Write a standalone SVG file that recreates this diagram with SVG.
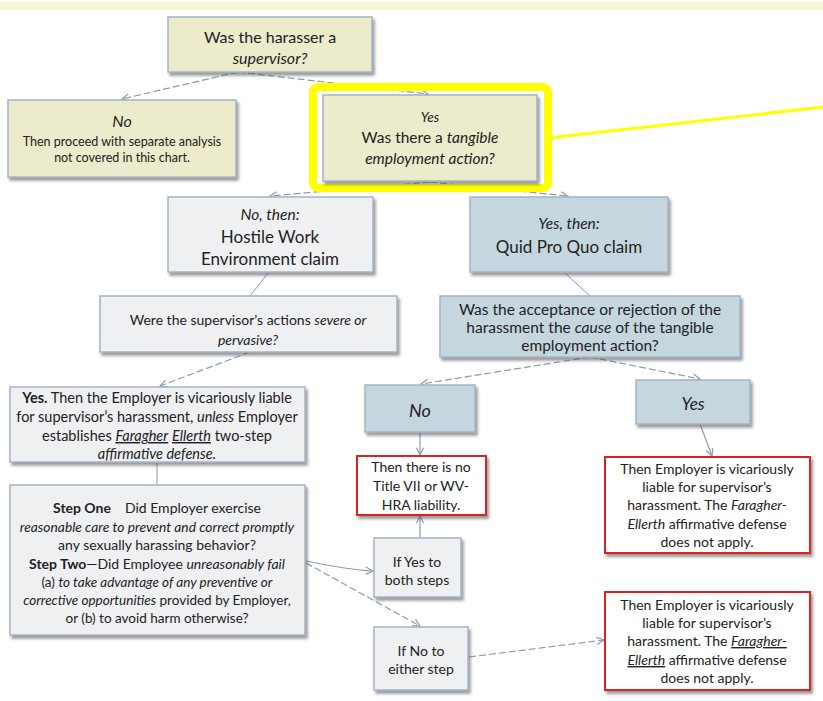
<svg xmlns="http://www.w3.org/2000/svg" width="823" height="701" viewBox="0 0 823 701">
<defs>
<filter id="sh" x="-10%" y="-10%" width="130%" height="140%">
<feDropShadow dx="2" dy="3" stdDeviation="1.8" flood-color="#555" flood-opacity="0.6"/>
</filter>
<marker id="arr" viewBox="0 0 10 10" refX="9" refY="5" markerWidth="9" markerHeight="9" orient="auto" markerUnits="userSpaceOnUse">
<path d="M1,1 L9,5 L1,9" fill="none" stroke="#8a9ab4" stroke-width="1.3"/>
</marker>
<style>
text{font-family:Lato,"Open Sans","Liberation Sans",sans-serif;fill:#222;text-anchor:middle}
.beige{fill:#ecebcb;stroke:#a4b4c6;stroke-width:1.5;filter:url(#sh)}
.gray{fill:#eff0f2;stroke:#a4b4c6;stroke-width:1.5;filter:url(#sh)}
.blue{fill:#c6d6df;stroke:#a4b4c6;stroke-width:1.5;filter:url(#sh)}
.red{fill:#ffffff;stroke:#dd2020;stroke-width:2;filter:url(#sh)}
.dash{fill:none;stroke:#8a9ab4;stroke-width:1.2;stroke-dasharray:7 3;marker-end:url(#arr)}
.solid{fill:none;stroke:#8a9ab4;stroke-width:1.2;marker-end:url(#arr)}
.plain{fill:none;stroke:#8a9ab4;stroke-width:1}
.i{font-style:italic}
.b{font-weight:bold}
.u{text-decoration:underline}
</style>
</defs>
<rect x="0" y="0" width="823" height="701" fill="#ffffff"/>
<rect x="0" y="2" width="823" height="8" fill="#f7f8d2"/>
<line x1="548" y1="138" x2="823" y2="107" stroke="#ffff00" stroke-width="3"/>

<g id="connectors">
<path class="dash" d="M238,72 L122,99"/>
<path class="dash" d="M238,72 L428,94"/>
<path class="dash" d="M430,182 L270,196"/>
<path class="dash" d="M430,182 L568,196"/>
<path class="plain" d="M268,273 L250,296"/>
<path class="plain" d="M565,273 L590,296"/>
<path class="dash" d="M250,352 L160,386"/>
<path class="dash" d="M590,357 L421,384"/>
<path class="dash" d="M590,357 L700,379"/>
<path class="plain" d="M157,462 L157,485"/>
<path class="solid" d="M420,432 L420,455"/>
<path class="solid" d="M700,424 L712,456"/>
<path class="solid" d="M420,538 L420,516"/>
<path class="solid" d="M306,561 C330,566 350,570 373,571"/>
<path class="dash" d="M306,563 L420,626"/>
<path class="dash" d="M469,657 L604,640"/>
</g>

<g id="n-supervisor">
<rect class="beige" x="168" y="17" width="204" height="55"/>
<text x="270" y="43" font-size="16">Was the harasser a</text>
<text x="270" y="64" font-size="16" class="i">supervisor?</text>
</g>

<g id="n-no">
<rect class="beige" x="8" y="100" width="228" height="77"/>
<text x="122" y="127" font-size="16" class="i">No</text>
<text x="122" y="146" font-size="12.5">Then proceed with separate analysis</text>
<text x="122" y="162" font-size="12.5">not covered in this chart.</text>
</g>

<g id="n-yes">
<rect x="313" y="87" width="235" height="101" rx="5" fill="none" stroke="#ffff00" stroke-width="8"/>
<rect class="beige" x="323" y="95" width="214" height="86"/>
<text x="430" y="122" font-size="13.5" class="i">Yes</text>
<text x="430" y="143" font-size="15.5">Was there a <tspan class="i">tangible</tspan></text>
<text x="430" y="164" font-size="15.5" class="i">employment action?</text>
</g>

<g id="n-hostile">
<rect class="gray" x="168" y="197" width="205" height="75"/>
<text x="270" y="220" font-size="15.5" class="i">No, then:</text>
<text x="270" y="243" font-size="17">Hostile Work</text>
<text x="270" y="265" font-size="17">Environment claim</text>
</g>

<g id="n-quid">
<rect class="blue" x="470" y="197" width="198" height="75"/>
<text x="569" y="229" font-size="15.5" class="i">Yes, then:</text>
<text x="569" y="253" font-size="17">Quid Pro Quo claim</text>
</g>

<g id="n-severe">
<rect class="gray" x="100" y="296" width="297" height="56"/>
<text x="248" y="325" font-size="14">Were the supervisor’s actions <tspan class="i">severe or</tspan></text>
<text x="248" y="345" font-size="14" class="i">pervasive?</text>
</g>

<g id="n-cause">
<rect class="blue" x="440" y="296" width="300" height="61"/>
<text x="590" y="315" font-size="15.5">Was the acceptance or rejection of the</text>
<text x="590" y="333" font-size="15.5">harassment the <tspan class="i">cause</tspan> of the tangible</text>
<text x="590" y="351" font-size="15.5">employment action?</text>
</g>

<g id="n-liable-unless">
<rect class="gray" x="10" y="387" width="295" height="75"/>
<text x="157" y="403" font-size="14.5"><tspan class="b">Yes.</tspan> Then the Employer is vicariously liable</text>
<text x="157" y="422" font-size="14.5">for supervisor’s harassment, <tspan class="i">unless</tspan> Employer</text>
<text x="157" y="441" font-size="14.5">establishes <tspan class="i u">Faragher</tspan> <tspan class="i u">Ellerth</tspan> two-step</text>
<text x="157" y="459" font-size="14.5" class="i">affirmative defense.</text>
</g>

<g id="n-steps">
<rect class="gray" x="10" y="485" width="295" height="150"/>
<text x="157" y="513" font-size="14"><tspan class="b">Step One</tspan><tspan dx="14">Did Employer exercise</tspan></text>
<text x="157" y="532" font-size="13.8" class="i">reasonable care to prevent and correct promptly</text>
<text x="157" y="550" font-size="14">any sexually harassing behavior?</text>
<text x="157" y="569" font-size="14"><tspan class="b">Step Two</tspan>—Did Employee <tspan class="i">unreasonably fail</tspan></text>
<text x="157" y="587" font-size="13.5">(a) <tspan class="i">to take advantage of any preventive or</tspan></text>
<text x="157" y="605" font-size="13.5"><tspan class="i">corrective opportunities</tspan> provided by Employer,</text>
<text x="157" y="623" font-size="13.5">or (b) to avoid harm otherwise?</text>
</g>

<g id="n-no2">
<rect class="blue" x="365" y="385" width="110" height="47"/>
<text x="420" y="417" font-size="18" class="i">No</text>
</g>

<g id="n-yes2">
<rect class="blue" x="636" y="380" width="114" height="44"/>
<text x="693" y="410" font-size="17" class="i">Yes</text>
</g>

<g id="n-noliab">
<rect class="red" x="357" y="456" width="129" height="59"/>
<text x="421" y="472" font-size="14">Then there is no</text>
<text x="421" y="491" font-size="14">Title VII or WV-</text>
<text x="421" y="510" font-size="14">HRA liability.</text>
</g>

<g id="n-liable1">
<rect class="red" x="605" y="457" width="205" height="96"/>
<text x="707" y="474" font-size="14">Then Employer is vicariously</text>
<text x="707" y="492" font-size="14">liable for supervisor’s</text>
<text x="707" y="510" font-size="14">harassment. The <tspan class="i">Faragher-</tspan></text>
<text x="707" y="529" font-size="14"><tspan class="i">Ellerth</tspan> affirmative defense</text>
<text x="707" y="547" font-size="14">does not apply.</text>
</g>

<g id="n-ifyes">
<rect class="gray" x="374" y="538" width="87" height="59"/>
<text x="417" y="567" font-size="14">If Yes to</text>
<text x="417" y="585" font-size="14">both steps</text>
</g>

<g id="n-ifno">
<rect class="gray" x="374" y="627" width="94" height="63"/>
<text x="421" y="656" font-size="14">If No to</text>
<text x="421" y="674" font-size="14">either step</text>
</g>

<g id="n-liable2">
<rect class="red" x="605" y="592" width="205" height="98"/>
<text x="707" y="610" font-size="14">Then Employer is vicariously</text>
<text x="707" y="628" font-size="14">liable for supervisor’s</text>
<text x="707" y="646" font-size="14">harassment. The <tspan class="i u">Faragher-</tspan></text>
<text x="707" y="665" font-size="14"><tspan class="i u">Ellerth</tspan> affirmative defense</text>
<text x="707" y="683" font-size="14">does not apply.</text>
</g>
</svg>
